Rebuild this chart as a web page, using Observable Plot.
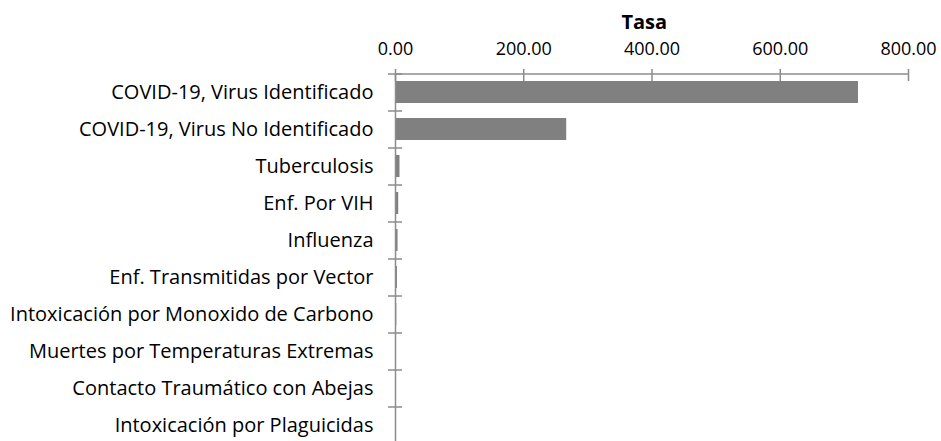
<!DOCTYPE html>
<html><head><meta charset="utf-8">
<script src="https://cdn.jsdelivr.net/npm/d3@7"></script>
<script src="https://cdn.jsdelivr.net/npm/@observablehq/plot@0.6"></script>
<style>body{margin:0;background:#fff;}</style>
</head><body><div id="chart"></div>
<script>
const categories = [
  "COVID-19, Virus Identificado",
  "COVID-19, Virus No Identificado",
  "Tuberculosis",
  "Enf. Por VIH",
  "Influenza",
  "Enf. Transmitidas por Vector",
  "Intoxicación por Monoxido de Carbono",
  "Muertes por Temperaturas Extremas",
  "Contacto Traumático con Abejas",
  "Intoxicación por Plaguicidas"
];
const values = [722, 267, 7, 5, 4, 3, 2, 1.5, 1, 0.5];
const xTicks = [0, 200, 400, 600, 800];
const axisTitle = "Tasa";
const data = categories.map((name, i) => ({name, value: values[i]}));

const W = 941, H = 441, mT = 74;
const step = 37;
const gray = "#8c8c8c";

const chart = Plot.plot({
  width: W, height: H,
  marginTop: mT, marginBottom: 0, marginLeft: 395, marginRight: 33,
  style: {fontFamily: "'Open Sans', sans-serif", fontSize: "18px", color: "#000", background: "#fff"},
  x: {domain: [0, 800], ticks: xTicks},
  y: {domain: categories, paddingInner: 0.4, paddingOuter: 0.2, label: null, range: [mT, mT + step * categories.length]},
  marks: [
    Plot.barX(data, {x: "value", y: "name", fill: "#808080"}),
    Plot.axisX({anchor: "top", ticks: xTicks, tickSize: 12, dy: 6, tickFormat: () => "", stroke: gray, strokeWidth: 1.5, strokeOpacity: 1, label: null}),
    Plot.axisX({anchor: "top", ticks: xTicks, tickSize: 0, tickPadding: 20, tickFormat: d3.format(".2f"), label: null, fontSize: 18, fill: "#000"}),
    Plot.text([axisTitle], {x: 388, frameAnchor: "top", lineAnchor: "middle", dy: -52, text: d => d, fontWeight: "bold", fontSize: 20, fill: "#000"}),
    Plot.axisY({tickSize: 0, tickPadding: 22, fontSize: 20, label: null, fill: "#000"}),
    Plot.ruleY(categories, {y: d => d, x1: -11, x2: 11, dy: -step / 2, stroke: gray, strokeWidth: 1.5}),
    Plot.ruleY([categories[0]], {y: d => d, x1: 0, x2: 800, dy: -step / 2, stroke: gray, strokeWidth: 1.5}),
    Plot.ruleX([0], {stroke: gray, strokeWidth: 1.5})
  ]
});
document.getElementById("chart").appendChild(chart);
</script></body></html>
